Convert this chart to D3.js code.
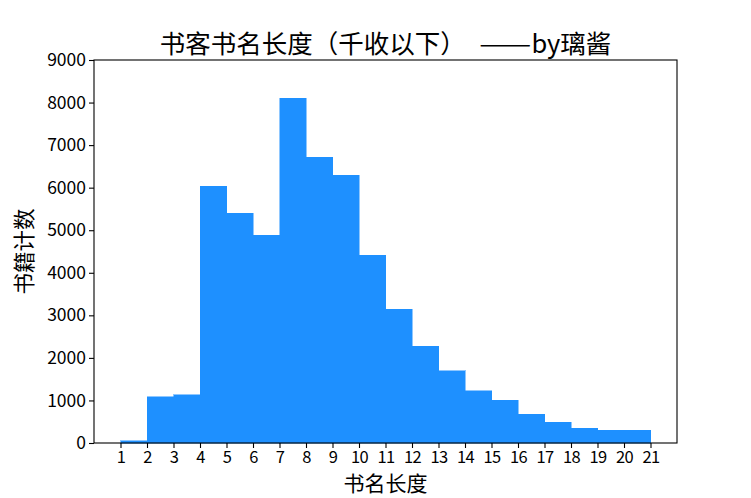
<!DOCTYPE html>
<html>
  <head>
    <meta charset="utf-8">
    <script type="text/javascript" src="https://cdn.jsdelivr.net/npm/d3@7/dist/d3.min.js"></script>
    <style type="text/css">

html, body {
  margin: 0;
  background: #fff;
}

svg {
  display: block;
  font-family: "Noto Sans CJK SC", sans-serif;
}

rect.bar {
  fill: #1E90FF;
  stroke: #1E90FF;
  stroke-width: 0.5;
  shape-rendering: crispEdges;
}

    </style>
  </head>
  <body>
    <div id="chart"></div>
    <script type="text/javascript">

// bin edges and counts
var binStart = [1, 2, 3, 4, 5, 6, 7, 8, 9, 10, 11, 12, 13, 14, 15, 16, 17, 18, 19, 20];
var counts = [54, 1081, 1135, 6039, 5404, 4887, 8106, 6720, 6297, 4417,
              3148, 2279, 1699, 1222, 1010, 681, 493, 352, 305, 305];
var xTicks = d3.range(1, 22);
var yTicks = [0, 1000, 2000, 3000, 4000, 5000, 6000, 7000, 8000, 9000];

var width = 751,
    height = 498,
    m = {top: 60, right: 74, bottom: 55, left: 94},
    w = width - m.left - m.right,
    h = height - m.top - m.bottom;

var svg = d3.select("#chart").append("svg")
    .attr("width", width)
    .attr("height", height);

var x = d3.scaleLinear().domain([0, 22]).range([0, w]);
var y = d3.scaleLinear().domain([0, 9000]).range([h, 0]);

var g = svg.append("g")
    .attr("transform", "translate(" + m.left + "," + m.top + ")");

g.selectAll("rect.bar")
    .data(counts)
  .enter().append("rect")
    .attr("class", "bar")
    .attr("x", function(d, i) { return x(binStart[i]); })
    .attr("width", function(d, i) { return x(binStart[i] + 1) - x(binStart[i]); })
    .attr("y", function(d) { return y(d); })
    .attr("height", function(d) { return h - y(d); });

// axes
var xAxis = g.append("g")
    .attr("transform", "translate(0," + h + ")")
    .call(d3.axisBottom(x).tickValues(xTicks).tickSize(5).tickPadding(3));
var yAxis = g.append("g")
    .call(d3.axisLeft(y).tickValues(yTicks).tickFormat(d3.format("d")).tickSize(5).tickPadding(3));

[xAxis, yAxis].forEach(function(a) {
  a.select(".domain").remove();
  a.selectAll("line").attr("stroke", "#000").attr("stroke-width", 1.1);
  a.selectAll("text")
      .attr("fill", "#000")
      .style("font-size", "17.5px")
      .style("font-family", "'Noto Sans CJK SC', sans-serif");
});
xAxis.selectAll("text")
    .style("font-size", "16.5px")
    .attr("letter-spacing", "-0.6px");

// frame
g.append("rect")
    .attr("width", w)
    .attr("height", h)
    .attr("fill", "none")
    .attr("stroke", "#000")
    .attr("stroke-width", 1.1);

var title = svg.append("text")
    .attr("x", m.left + w / 2)
    .attr("y", 53)
    .attr("text-anchor", "middle")
    .style("font-size", "25.5px");
title.append("tspan").text("书客书名长度（千收以下） ");
title.append("tspan")
    .attr("dx", 8)
    .attr("textLength", 52)
    .attr("lengthAdjust", "spacingAndGlyphs")
    .text("——");
title.append("tspan").text("by璃酱");

svg.append("text")
    .attr("x", m.left + w / 2)
    .attr("y", 491)
    .attr("text-anchor", "middle")
    .style("font-size", "21px")
    .text("书名长度");

svg.append("text")
    .attr("transform", "translate(32," + (m.top + h / 2) + ") rotate(-90)")
    .attr("text-anchor", "middle")
    .style("font-size", "21.5px")
    .text("书籍计数");

    </script>
  </body>
</html>
